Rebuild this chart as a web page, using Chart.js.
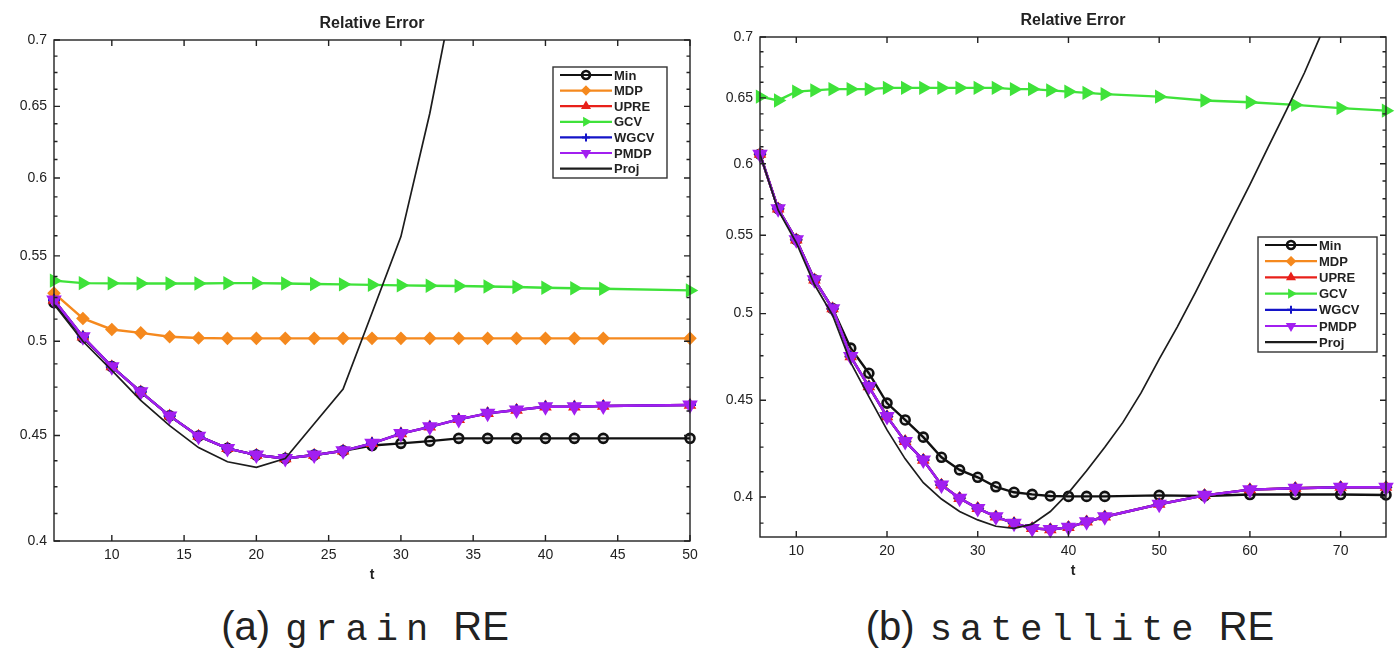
<!DOCTYPE html>
<html>
<head>
<meta charset="utf-8">
<script src="https://cdn.jsdelivr.net/npm/chart.js@4.4.1/dist/chart.umd.min.js"></script>
<style>
  body { margin: 0; background: #fff; }
  #wrap { position: relative; width: 1395px; height: 668px; overflow: hidden; background: #fff; }
  canvas { position: absolute; top: 0; }
  #chartA { left: 0; }
  #chartB { left: 700px; }
  .cap {
    position: absolute; top: 604px; transform: translateX(-50%);
    font-family: Arial, 'Liberation Sans', sans-serif; font-size: 40px; color: #222; white-space: nowrap;
  }
  .cap .tt { font-family: 'Liberation Mono', 'DejaVu Sans Mono', monospace; font-size: 37px;
             letter-spacing: 8px; margin: 0 6px 0 4px; }
</style>
</head>
<body>
<div id="wrap">
  <canvas id="chartA" width="720" height="600"></canvas>
  <canvas id="chartB" width="695" height="600"></canvas>
  <div class="cap" style="left:365px">(a) <span class="tt">grain</span> RE</div>
  <div class="cap" style="left:1070px">(b) <span class="tt">satellite</span> RE</div>
</div>
<script>
// ---- data: (a) grain ----
const grainT = [6, 8, 10, 12, 14, 16, 18, 20, 22, 24, 26, 28, 30, 32, 34, 36, 38, 40, 42, 44, 50];
const grainMin  = [0.522, 0.502, 0.486, 0.4725, 0.460, 0.4497, 0.4436, 0.4403, 0.4386, 0.4403, 0.4424, 0.445, 0.4461, 0.4472, 0.4486, 0.4486, 0.4486, 0.4486, 0.4486, 0.4486, 0.4486];
const grainMDP  = [0.5276, 0.5129, 0.5066, 0.5047, 0.5025, 0.5018, 0.5016, 0.5016, 0.5016, 0.5016, 0.5016, 0.5016, 0.5016, 0.5016, 0.5016, 0.5016, 0.5016, 0.5016, 0.5016, 0.5016, 0.5016];
const grainGCV  = [0.535, 0.5335, 0.5334, 0.5333, 0.5333, 0.5333, 0.5335, 0.5335, 0.5333, 0.533, 0.5328, 0.5325, 0.5322, 0.532, 0.5318, 0.5315, 0.5312, 0.5308, 0.5305, 0.5302, 0.5292];
const grainPMDP = [0.5235, 0.5025, 0.486, 0.4725, 0.460, 0.4497, 0.4436, 0.4403, 0.4386, 0.4403, 0.4424, 0.4461, 0.451, 0.4544, 0.4582, 0.4613, 0.463, 0.4647, 0.4647, 0.4651, 0.4656];
const grainUPRE = grainPMDP;   // hidden under PMDP
const grainWGCV = grainPMDP;
const grainProjT = [6, 8, 10, 12, 14, 16, 18, 20, 22, 24, 26, 28, 30, 32, 34];
const grainProj  = [0.521, 0.500, 0.484, 0.468, 0.455, 0.444, 0.437, 0.4343, 0.4386, 0.456, 0.474, 0.516, 0.562, 0.645, 0.76];

// ---- data: (b) satellite ----
const satT = [6, 8, 10, 12, 14, 16, 18, 20, 22, 24, 26, 28, 30, 32, 34, 36, 38, 40, 42, 44, 50, 55, 60, 65, 70, 75];
const satMin  = [0.607, 0.568, 0.547, 0.521, 0.503, 0.4794, 0.465, 0.4484, 0.4393, 0.4302, 0.4198, 0.4134, 0.4097, 0.405, 0.4023, 0.4013, 0.4005, 0.4003, 0.4003, 0.4003, 0.4008, 0.4005, 0.4012, 0.4012, 0.4012, 0.401];
const satPMDP = [0.607, 0.568, 0.547, 0.521, 0.503, 0.4745, 0.4575, 0.4411, 0.428, 0.4184, 0.4059, 0.3994, 0.3945, 0.3905, 0.3874, 0.385, 0.3845, 0.3855, 0.3881, 0.3905, 0.3965, 0.4008, 0.4036, 0.4043, 0.4048, 0.4048];
const satGCV  = [0.651, 0.648, 0.655, 0.656, 0.657, 0.657, 0.657, 0.658, 0.658, 0.658, 0.658, 0.658, 0.658, 0.658, 0.657, 0.657, 0.656, 0.655, 0.654, 0.653, 0.651, 0.648, 0.6466, 0.6445, 0.642, 0.640];
const satMDP  = satPMDP;   // hidden under PMDP
const satUPRE = satPMDP;
const satWGCV = satPMDP;
const satProjT = [6, 8, 10, 12, 14, 16, 18, 20, 22, 24, 26, 28, 30, 32, 34, 36, 38, 40, 42, 44, 46, 48, 50, 52, 54, 56, 58, 60, 62, 64, 66, 68, 70];
const satProj  = [0.607, 0.567, 0.545, 0.518, 0.499, 0.471, 0.452, 0.434, 0.419, 0.407, 0.399, 0.393, 0.389, 0.386, 0.385, 0.387, 0.393, 0.402, 0.413, 0.425, 0.438, 0.454, 0.473, 0.492, 0.513, 0.536, 0.560, 0.585, 0.612, 0.640, 0.670, 0.705, 0.74];

// ---- ticks ----
const yTicks = [0.4, 0.45, 0.5, 0.55, 0.6, 0.65, 0.7];
const grainXTicks = [10, 15, 20, 25, 30, 35, 40, 45, 50];
const satXTicks = [10, 20, 30, 40, 50, 60, 70];

const seriesNames = ['Min', 'MDP', 'UPRE', 'GCV', 'WGCV', 'PMDP', 'Proj'];

// marker styles, MATLAB-ish
const STYLES = [
  { color: '#111111', fill: 'rgba(0,0,0,0.12)', style: 'circle',   rot: 0,   r: 4.5, bw: 2.6 },
  { color: '#f5891e', fill: '#f5891e',          style: 'rectRot',  rot: 0,   r: 5.5, bw: 1.8 },
  { color: '#e8201a', fill: '#e8201a',          style: 'triangle', rot: 0,   r: 5.5, bw: 1.8 },
  { color: '#3fe23a', fill: '#3fe23a',          style: 'triangle', rot: 90,  r: 6.5, bw: 1.8 },
  { color: '#1414c8', fill: '#1414c8',          style: 'cross',    rot: 0,   r: 6,   bw: 2 },
  { color: '#a21ff0', fill: '#a21ff0',          style: 'triangle', rot: 180, r: 7,   bw: 2 },
  { color: '#1c1c1c', fill: '#1c1c1c',          style: false,      rot: 0,   r: 0,   bw: 0 }
];

const FONT = "Arial, 'Liberation Sans', sans-serif";

function buildDatasets(t, series, projT, proj) {
  const ds = series.map((vals, i) => ({
    label: seriesNames[i],
    data: t.map((x, k) => ({ x: x, y: vals[k] })),
    borderColor: STYLES[i].color,
    backgroundColor: STYLES[i].fill,
    pointStyle: STYLES[i].style,
    pointRotation: STYLES[i].rot,
    pointRadius: STYLES[i].r,
    pointBorderColor: STYLES[i].color,
    pointBorderWidth: STYLES[i].bw,
    borderWidth: 2.4,
    tension: 0,
    clip: false,
    order: 6 - i
  }));
  ds.push({
    label: 'Proj',
    data: projT.map((x, k) => ({ x: x, y: proj[k] })),
    borderColor: STYLES[6].color,
    borderWidth: 1.7,
    pointRadius: 0,
    tension: 0,
    order: 0
  });
  return ds;
}

function drawMarker(ctx, s, x, y, r) {
  if (!s.style) return;
  ctx.save();
  ctx.translate(x, y);
  ctx.rotate(s.rot * Math.PI / 180);
  ctx.fillStyle = s.fill;
  ctx.strokeStyle = s.color;
  ctx.lineWidth = s.bw;
  ctx.beginPath();
  if (s.style === 'circle') {
    ctx.arc(0, 0, r, 0, Math.PI * 2);
    ctx.stroke();
  } else if (s.style === 'triangle') {
    ctx.moveTo(0, -r);
    ctx.lineTo(r * 0.87, r * 0.5);
    ctx.lineTo(-r * 0.87, r * 0.5);
    ctx.closePath();
    ctx.fill(); ctx.stroke();
  } else if (s.style === 'rectRot') {
    ctx.moveTo(0, -r); ctx.lineTo(r, 0); ctx.lineTo(0, r); ctx.lineTo(-r, 0);
    ctx.closePath();
    ctx.fill(); ctx.stroke();
  } else if (s.style === 'cross') {
    ctx.moveTo(0, -r); ctx.lineTo(0, r);
    ctx.moveTo(-r, 0); ctx.lineTo(r, 0);
    ctx.stroke();
  }
  ctx.restore();
}

// box, inward ticks, title, axis label and legend
const framePlugin = {
  id: 'frame',
  afterDraw(chart, args, o) {
    const { ctx, chartArea: a, scales } = chart;
    const xs = scales.x, ys = scales.y;
    ctx.save();
    ctx.strokeStyle = '#222';
    ctx.lineWidth = 1.4;
    ctx.strokeRect(a.left, a.top, a.right - a.left, a.bottom - a.top);

    ctx.beginPath();
    for (let v = 0.3875; v < 0.7001; v += 0.0125) {
      const p = ys.getPixelForValue(v);
      if (p < a.top - 0.5 || p > a.bottom + 0.5) continue;
      const major = Math.abs(v * 20 - Math.round(v * 20)) < 1e-6;
      const len = major ? 6 : 3.5;
      ctx.moveTo(a.left, p); ctx.lineTo(a.left + len, p);
      ctx.moveTo(a.right, p); ctx.lineTo(a.right - len, p);
    }
    o.xTicks.forEach(v => {
      const p = xs.getPixelForValue(v);
      ctx.moveTo(p, a.bottom); ctx.lineTo(p, a.bottom - 6);
      ctx.moveTo(p, a.top); ctx.lineTo(p, a.top + 6);
    });
    ctx.stroke();

    const cx = (a.left + a.right) / 2;
    ctx.fillStyle = '#222';
    ctx.textAlign = 'center';
    ctx.textBaseline = 'middle';
    ctx.font = 'bold 16px ' + FONT;
    ctx.fillText(o.title, cx, a.top - 16);
    ctx.font = 'bold 14px ' + FONT;
    ctx.fillText('t', cx, a.bottom + 34);

    // legend
    const L = o.legend;
    ctx.fillStyle = '#fff';
    ctx.fillRect(L.x, L.y, L.w, L.h);
    ctx.lineWidth = 1.4;
    ctx.strokeStyle = '#333';
    ctx.strokeRect(L.x, L.y, L.w, L.h);
    ctx.textAlign = 'left';
    ctx.font = 'bold 13px ' + FONT;
    seriesNames.forEach((name, i) => {
      const yy = L.y + L.first + i * L.step;
      const s = STYLES[i];
      ctx.strokeStyle = s.color;
      ctx.lineWidth = 2.2;
      ctx.beginPath();
      ctx.moveTo(L.x + 7, yy); ctx.lineTo(L.x + 59, yy);
      ctx.stroke();
      drawMarker(ctx, s, L.x + 33, yy, 4);
      ctx.fillStyle = '#222';
      ctx.fillText(name, L.x + 61, yy + 1);
    });
    ctx.restore();
  }
};

function axisOptions(xMin, xMax, xTicks, yMin, yAxisW, xAxisH) {
  return {
    x: {
      type: 'linear', min: xMin, max: xMax,
      afterBuildTicks: s => { s.ticks = xTicks.map(v => ({ value: v })); },
      afterFit: s => { s.height = xAxisH; },
      grid: { display: false, drawTicks: false },
      border: { display: false },
      ticks: { autoSkip: false, maxRotation: 0, padding: 6, color: '#222', font: { family: FONT, size: 14 } }
    },
    y: {
      type: 'logarithmic', min: yMin, max: 0.7,
      afterBuildTicks: s => { s.ticks = yTicks.filter(v => v >= yMin).map(v => ({ value: v })); },
      afterFit: s => { s.width = yAxisW; },
      grid: { display: false, drawTicks: false },
      border: { display: false },
      ticks: { autoSkip: false, padding: 7, color: '#222', font: { family: FONT, size: 14 },
               callback: v => String(v) }
    }
  };
}

new Chart(document.getElementById('chartA'), {
  type: 'line',
  data: {
    datasets: buildDatasets(grainT, [grainMin, grainMDP, grainUPRE, grainGCV, grainWGCV, grainPMDP], grainProjT, grainProj)
  },
  options: {
    responsive: false,
    animation: false,
    layout: { padding: { top: 40, right: 30, left: 0, bottom: 0 } },
    scales: axisOptions(6, 50, grainXTicks, 0.4, 54, 59),
    plugins: {
      legend: { display: false },
      tooltip: { enabled: false },
      frame: { title: 'Relative Error', xTicks: grainXTicks,
               legend: { x: 553, y: 67, w: 114, h: 111, first: 8, step: 15.6 } }
    }
  },
  plugins: [framePlugin]
});

new Chart(document.getElementById('chartB'), {
  type: 'line',
  data: {
    datasets: buildDatasets(satT, [satMin, satMDP, satUPRE, satGCV, satWGCV, satPMDP], satProjT, satProj)
  },
  options: {
    responsive: false,
    animation: false,
    layout: { padding: { top: 37, right: 4, left: 0, bottom: 0 } },
    scales: axisOptions(6, 75, satXTicks, 0.381, 60, 63),
    plugins: {
      legend: { display: false },
      tooltip: { enabled: false },
      frame: { title: 'Relative Error', xTicks: satXTicks,
               legend: { x: 558, y: 237, w: 119, h: 115, first: 8, step: 16.2 } }
    }
  },
  plugins: [framePlugin]
});
</script>
</body>
</html>
